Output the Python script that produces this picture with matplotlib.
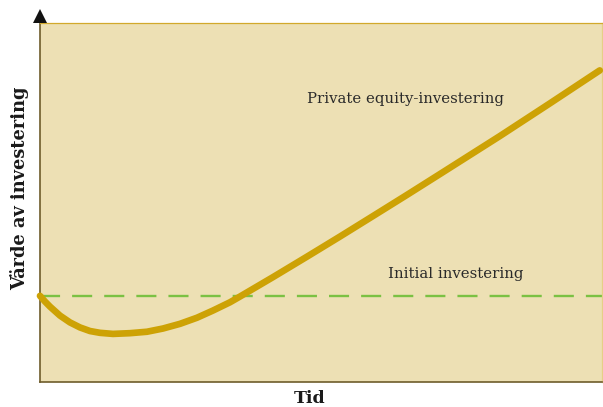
import matplotlib.pyplot as plt
from matplotlib.transforms import ScaledTranslation

# value of a private equity investment over time, against the initial amount
tid = [0.000, 0.090, 0.178, 0.356, 0.534, 0.712, 0.890, 1.068, 1.299, 1.601,
       1.904, 2.189, 2.491, 2.794, 3.078, 3.381, 3.559, 4.146, 4.751, 5.338,
       5.925, 6.530, 7.117, 7.651, 8.185, 9.075, 9.964]
varde = [2.40, 2.24, 2.10, 1.85, 1.66, 1.52, 1.42, 1.37, 1.34, 1.36,
         1.40, 1.49, 1.62, 1.79, 1.99, 2.22, 2.38, 2.92, 3.49, 4.05,
         4.62, 5.21, 5.79, 6.32, 6.85, 7.76, 8.68]
initial = 2.40

FILL = '#ede0b4'
GOLD = '#cda205'
GREEN = '#7bc143'
AXIS = '#6e5c2b'


def main():
	plt.rcParams['font.family'] = ['DejaVu Serif']
	fig = plt.figure(figsize=(6.03, 4.07), dpi=100)
	ax = fig.add_axes([0.0663, 0.0614, 0.9317, 0.8821])
	ax.set_facecolor(FILL)

	ax.plot([0, 10], [initial, initial], color=GREEN, lw=1.7, dashes=(8.5, 5.1))
	ax.plot(tid, varde, color=GOLD, lw=4.8, solid_capstyle='round',
			solid_joinstyle='round', clip_on=False, zorder=3)

	ax.set_xlim(0, 10)
	ax.set_ylim(0, 10)
	ax.set_xticks([])
	ax.set_yticks([])

	ax.spines['left'].set_color(AXIS)
	ax.spines['bottom'].set_color(AXIS)
	ax.spines['left'].set_linewidth(1.2)
	ax.spines['bottom'].set_linewidth(1.2)
	ax.spines['top'].set_color('#d2a92c')
	ax.spines['top'].set_linewidth(0.9)
	ax.spines['right'].set_color('#e6cf86')
	ax.spines['right'].set_linewidth(0.9)

	# arrow head on top of the value axis, base sitting on the frame
	shift = ScaledTranslation(0, 6.5 / 100, fig.dpi_scale_trans)
	ax.plot(0, 1.0, marker='^', ms=10, color='#111111',
			transform=ax.transAxes + shift, clip_on=False, zorder=5,
			markeredgewidth=0)

	ax.text(6.51, 7.88, 'Private equity-investering', fontsize=10.7,
			color='#2a2a2a', ha='center', va='center')
	ax.text(7.40, 3.01, 'Initial investering', fontsize=10.7,
			color='#2a2a2a', ha='center', va='center')

	fig.text(0.514, 0.02, 'Tid', fontsize=12.5, fontweight='bold',
			 ha='center', va='center', color='#1a1a1a')
	fig.text(0.032, 0.538, 'Värde av investering', fontsize=12.8,
			 fontweight='bold', rotation=90, ha='center', va='center',
			 color='#1a1a1a')

	fig.savefig('out.png', dpi=100)


if __name__ == "__main__":
	main()
